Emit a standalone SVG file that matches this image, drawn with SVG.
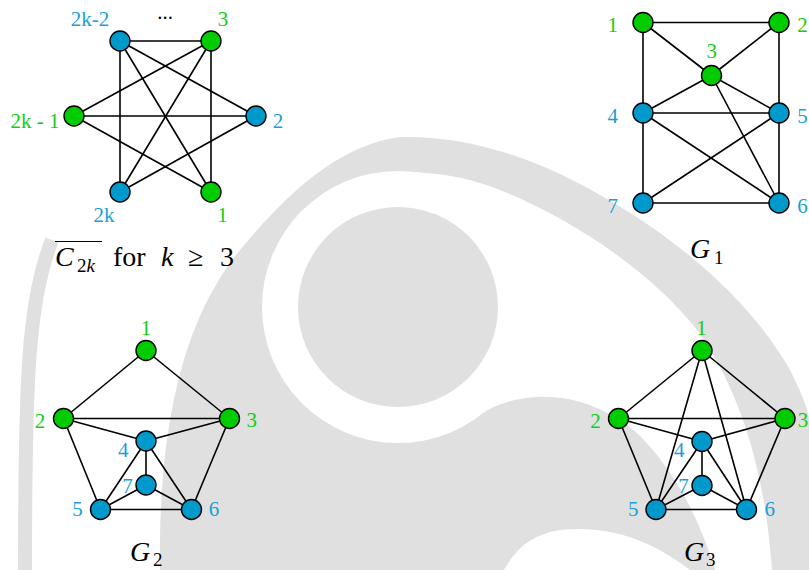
<svg xmlns="http://www.w3.org/2000/svg" width="809" height="570" viewBox="0 0 809 570">
<style>
.e{stroke:#000;stroke-width:1.6;fill:none;stroke-linecap:round}
.ng{fill:#00cc00;stroke:#000;stroke-width:1.4}
.nb{fill:#0099cc;stroke:#000;stroke-width:1.4}
.l{font-family:"Liberation Serif","DejaVu Serif",serif;font-size:21px;text-anchor:middle}
.lg{fill:#14cc14}
.lb{fill:#1a9fd6}
.cap{font-family:"Liberation Serif","DejaVu Serif",serif;font-size:28px;fill:#000}
.sub{font-family:"Liberation Serif","DejaVu Serif",serif;font-size:19px;fill:#000}
.wm{fill:#e0e0e0}
</style>
<rect width="809" height="570" fill="#fff"/>
<g id="watermark">
<path class="wm" d="M160,570 C158,430 182,320 240,250 C290,190 340,145 400,137 C470,135 540,160 600,195 C680,240 750,300 790,370 C800,390 809,410 809,420 L809,570 Z"/>
<circle cx="398" cy="307" r="136" fill="#fff"/>
<path fill="#fff" d="M400,172 C440,172 470,178 500,190 C570,218 650,270 697,330 C740,390 765,470 772,570 L715,570 C700,520 675,470 637,433 C610,410 575,395 537,397 C515,398 495,405 483,413 L398,307 Z"/>
<path fill="#fff" d="M504,570 C515,550 530,535 560,530 C610,525 650,540 690,570 Z"/>
<circle class="wm" cx="398" cy="307" r="100"/>
<path d="M52,240 C28,300 25,380 25,570" stroke="#e0e0e0" stroke-width="14" fill="none"/>
</g>
<g id="connectors">
<line class="e" x1="120" y1="41" x2="211" y2="41"/>
<line class="e" x1="120" y1="41" x2="120" y2="192"/>
<line class="e" x1="211" y1="41" x2="211" y2="192"/>
<line class="e" x1="74" y1="116" x2="256" y2="116"/>
<line class="e" x1="120" y1="41" x2="256" y2="116"/>
<line class="e" x1="120" y1="41" x2="211" y2="192"/>
<line class="e" x1="211" y1="41" x2="74" y2="116"/>
<line class="e" x1="211" y1="41" x2="120" y2="192"/>
<line class="e" x1="74" y1="116" x2="211" y2="192"/>
<line class="e" x1="120" y1="192" x2="256" y2="116"/>
<line class="e" x1="643" y1="22.5" x2="779" y2="22.5"/>
<line class="e" x1="643" y1="22.5" x2="643" y2="113"/>
<line class="e" x1="643" y1="22.5" x2="711.5" y2="75.5"/>
<line class="e" x1="779" y1="22.5" x2="711.5" y2="75.5"/>
<line class="e" x1="779" y1="22.5" x2="779" y2="113"/>
<line class="e" x1="711.5" y1="75.5" x2="643" y2="113"/>
<line class="e" x1="711.5" y1="75.5" x2="779" y2="113"/>
<line class="e" x1="711.5" y1="75.5" x2="779" y2="203"/>
<line class="e" x1="643" y1="113" x2="779" y2="113"/>
<line class="e" x1="643" y1="113" x2="643" y2="203"/>
<line class="e" x1="643" y1="113" x2="779" y2="203"/>
<line class="e" x1="779" y1="113" x2="643" y2="203"/>
<line class="e" x1="779" y1="113" x2="779" y2="203"/>
<line class="e" x1="643" y1="203" x2="779" y2="203"/>
<line class="e" x1="146" y1="350.5" x2="63.5" y2="418.5"/>
<line class="e" x1="146" y1="350.5" x2="229.5" y2="418.5"/>
<line class="e" x1="63.5" y1="418.5" x2="229.5" y2="418.5"/>
<line class="e" x1="63.5" y1="418.5" x2="146" y2="441"/>
<line class="e" x1="63.5" y1="418.5" x2="100.5" y2="509.5"/>
<line class="e" x1="229.5" y1="418.5" x2="146" y2="441"/>
<line class="e" x1="229.5" y1="418.5" x2="191.5" y2="509.5"/>
<line class="e" x1="146" y1="441" x2="146" y2="485"/>
<line class="e" x1="146" y1="441" x2="100.5" y2="509.5"/>
<line class="e" x1="146" y1="441" x2="191.5" y2="509.5"/>
<line class="e" x1="146" y1="485" x2="100.5" y2="509.5"/>
<line class="e" x1="146" y1="485" x2="191.5" y2="509.5"/>
<line class="e" x1="100.5" y1="509.5" x2="191.5" y2="509.5"/>
<line class="e" x1="702" y1="350.5" x2="618.5" y2="418.5"/>
<line class="e" x1="702" y1="350.5" x2="785" y2="418.5"/>
<line class="e" x1="702" y1="350.5" x2="656" y2="509.5"/>
<line class="e" x1="702" y1="350.5" x2="746.5" y2="509.5"/>
<line class="e" x1="618.5" y1="418.5" x2="785" y2="418.5"/>
<line class="e" x1="618.5" y1="418.5" x2="702" y2="441.5"/>
<line class="e" x1="618.5" y1="418.5" x2="656" y2="509.5"/>
<line class="e" x1="785" y1="418.5" x2="702" y2="441.5"/>
<line class="e" x1="785" y1="418.5" x2="746.5" y2="509.5"/>
<line class="e" x1="702" y1="441.5" x2="702" y2="485.5"/>
<line class="e" x1="702" y1="441.5" x2="656" y2="509.5"/>
<line class="e" x1="702" y1="441.5" x2="746.5" y2="509.5"/>
<line class="e" x1="702" y1="485.5" x2="656" y2="509.5"/>
<line class="e" x1="702" y1="485.5" x2="746.5" y2="509.5"/>
<line class="e" x1="656" y1="509.5" x2="746.5" y2="509.5"/>
</g>
<g id="c2k">
<g id="c-2k-2"><circle class="nb" cx="120" cy="41" r="10"/><text class="l lb" x="90" y="26">2k-2</text></g>
<g id="c-3"><circle class="ng" cx="211" cy="41" r="10"/><text class="l lg" x="223" y="26">3</text></g>
<g id="c-dots"><text class="l" x="165" y="19" fill="#000">...</text></g>
<g id="c-2k-1"><circle class="ng" cx="74" cy="116" r="10"/><text class="l lg" x="35" y="128">2k - 1</text></g>
<g id="c-2"><circle class="nb" cx="256" cy="116" r="10"/><text class="l lb" x="278" y="128">2</text></g>
<g id="c-2k"><circle class="nb" cx="120" cy="192" r="10"/><text class="l lb" x="104" y="222">2k</text></g>
<g id="c-1"><circle class="ng" cx="211" cy="192" r="10"/><text class="l lg" x="222.5" y="222">1</text></g>
<g id="c-caption">
<line x1="55" y1="241.5" x2="102" y2="241.5" stroke="#000" stroke-width="1.2"/>
<text class="cap" x="55" y="266" font-style="italic">C</text>
<text class="sub" x="77" y="272"><tspan>2</tspan><tspan font-style="italic">k</tspan></text>
<text class="cap" x="113" y="266">for</text>
<text class="cap" x="161" y="266" font-style="italic">k</text>
<text class="cap" x="188" y="266">≥</text>
<text class="cap" x="220" y="266">3</text>
</g>
</g>
<g id="g1">
<g id="g1-1"><circle class="ng" cx="643" cy="22.5" r="10"/><text class="l lg" x="612.7" y="32">1</text></g>
<g id="g1-2"><circle class="ng" cx="779" cy="22.5" r="10"/><text class="l lg" x="802.5" y="32">2</text></g>
<g id="g1-3"><circle class="ng" cx="711.5" cy="75.5" r="10"/><text class="l lg" x="711.7" y="58">3</text></g>
<g id="g1-4"><circle class="nb" cx="643" cy="113" r="10"/><text class="l lb" x="612.7" y="122.5">4</text></g>
<g id="g1-5"><circle class="nb" cx="779" cy="113" r="10"/><text class="l lb" x="802.5" y="122.5">5</text></g>
<g id="g1-7"><circle class="nb" cx="643" cy="203" r="10"/><text class="l lb" x="612.7" y="212.5">7</text></g>
<g id="g1-6"><circle class="nb" cx="779" cy="203" r="10"/><text class="l lb" x="802.5" y="212.5">6</text></g>
<g id="g1-caption"><text class="cap" x="690" y="258" font-style="italic">G</text><text class="sub" x="714" y="264">1</text></g>
</g>
<g id="g2">
<g id="g2-1"><circle class="ng" cx="146" cy="350.5" r="10"/><text class="l lg" x="146" y="335">1</text></g>
<g id="g2-2"><circle class="ng" cx="63.5" cy="418.5" r="10"/><text class="l lg" x="40" y="428">2</text></g>
<g id="g2-3"><circle class="ng" cx="229.5" cy="418.5" r="10"/><text class="l lg" x="251.7" y="427">3</text></g>
<g id="g2-4"><circle class="nb" cx="146" cy="441" r="10"/><text class="l lb" x="123.3" y="456.5">4</text></g>
<g id="g2-7"><circle class="nb" cx="146" cy="485" r="10"/><text class="l lb" x="127.5" y="493">7</text></g>
<g id="g2-5"><circle class="nb" cx="100.5" cy="509.5" r="10"/><text class="l lb" x="77.5" y="515.5">5</text></g>
<g id="g2-6"><circle class="nb" cx="191.5" cy="509.5" r="10"/><text class="l lb" x="214" y="515.5">6</text></g>
<g id="g2-caption"><text class="cap" x="130" y="561" font-style="italic">G</text><text class="sub" x="153" y="566">2</text></g>
</g>
<g id="g3">
<g id="g3-1"><circle class="ng" cx="702" cy="350.5" r="10"/><text class="l lg" x="701.5" y="335">1</text></g>
<g id="g3-2"><circle class="ng" cx="618.5" cy="418.5" r="10"/><text class="l lg" x="595.5" y="428">2</text></g>
<g id="g3-3"><circle class="ng" cx="785" cy="418.5" r="10"/><text class="l lg" x="803" y="427">3</text></g>
<g id="g3-4"><circle class="nb" cx="702" cy="441.5" r="10"/><text class="l lb" x="679.3" y="456.5">4</text></g>
<g id="g3-7"><circle class="nb" cx="702" cy="485.5" r="10"/><text class="l lb" x="683.5" y="493">7</text></g>
<g id="g3-5"><circle class="nb" cx="656" cy="509.5" r="10"/><text class="l lb" x="633.3" y="515.5">5</text></g>
<g id="g3-6"><circle class="nb" cx="746.5" cy="509.5" r="10"/><text class="l lb" x="769.7" y="515.5">6</text></g>
<g id="g3-caption"><text class="cap" x="684" y="561" font-style="italic">G</text><text class="sub" x="706" y="566">3</text></g>
</g>
</svg>
